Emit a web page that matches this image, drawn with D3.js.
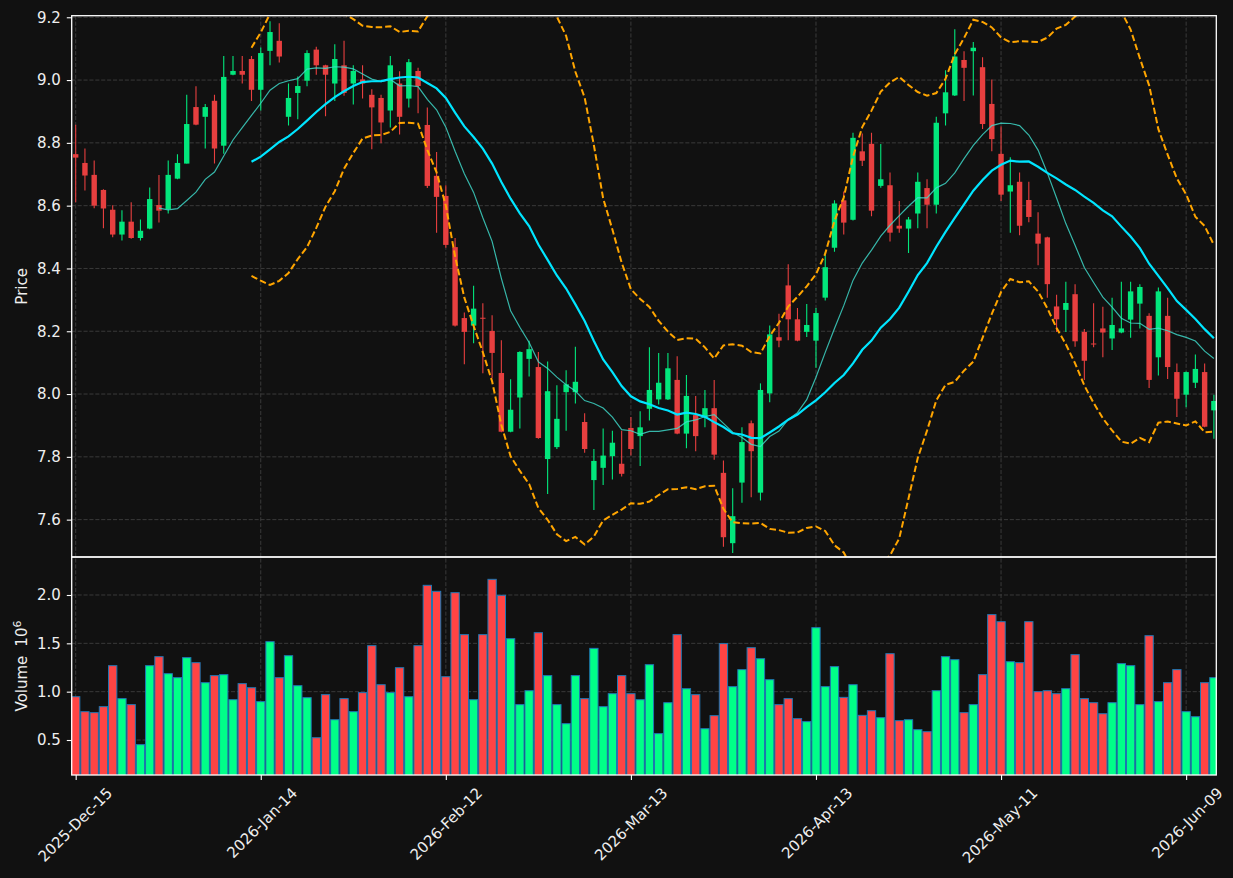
<!DOCTYPE html>
<html>
<head>
<meta charset="utf-8">
<script src="https://cdn.jsdelivr.net/npm/d3@7"></script>
<style>
  html, body { margin: 0; padding: 0; background: #111111; }
  svg { display: block; font-family: "DejaVu Sans", sans-serif; }
</style>
</head>
<body>
<svg id="chart" width="1233" height="878"></svg>
<script>
// ── Data ─────────────────────────────────────────────────────────────────────
const opens  = [8.764,8.736,8.698,8.650,8.587,8.508,8.549,8.497,8.527,8.602,8.589,8.686,8.734,8.914,8.883,8.934,8.791,9.017,9.029,9.067,
  8.969,9.093,9.125,8.883,8.959,8.998,9.097,9.047,8.989,9.047,8.989,9.002,8.953,8.943,8.903,8.989,8.941,9.029,8.857,8.695,
  8.631,8.468,8.242,8.218,8.243,8.201,8.067,7.880,7.989,8.112,8.086,7.793,7.831,8.006,8.006,7.911,7.726,7.765,7.802,7.778,
  7.892,7.866,7.953,7.983,7.983,8.045,7.874,7.933,7.927,7.955,7.749,7.525,7.718,7.907,7.686,8.002,8.181,8.346,8.238,8.198,
  8.170,8.307,8.466,8.617,8.555,8.773,8.797,8.663,8.665,8.536,8.527,8.575,8.656,8.603,8.894,8.951,9.064,9.092,9.041,8.924,
  8.765,8.645,8.676,8.618,8.511,8.499,8.279,8.268,8.318,8.198,8.161,8.209,8.177,8.196,8.237,8.288,8.249,8.117,8.249,8.070,
  7.998,8.036,8.070,7.948];
const highs  = [8.858,8.782,8.744,8.652,8.601,8.585,8.611,8.556,8.658,8.698,8.744,8.764,8.953,8.980,8.924,8.953,9.077,9.077,9.077,9.077,
  9.104,9.187,9.181,8.989,9.011,9.095,9.106,9.049,9.114,9.125,9.047,9.047,8.971,8.953,9.077,9.028,9.067,9.039,8.913,8.771,
  8.665,8.497,8.260,8.345,8.289,8.251,8.171,8.047,8.136,8.170,8.134,8.104,8.028,8.076,8.151,7.939,7.825,7.890,7.883,7.883,
  7.927,7.945,8.149,8.131,8.131,8.120,8.061,7.994,8.013,8.045,7.788,7.700,7.894,7.916,8.034,8.218,8.256,8.413,8.274,8.287,
  8.274,8.453,8.617,8.645,8.832,8.830,8.832,8.796,8.706,8.615,8.564,8.706,8.684,8.883,9.031,9.162,9.092,9.121,9.073,9.002,
  8.853,8.754,8.706,8.676,8.579,8.501,8.316,8.358,8.350,8.207,8.289,8.278,8.307,8.358,8.358,8.350,8.257,8.339,8.307,8.097,
  8.072,8.126,8.097,7.998];
const lows   = [8.611,8.648,8.592,8.528,8.499,8.489,8.495,8.489,8.525,8.546,8.575,8.684,8.734,8.856,8.782,8.734,8.765,9.015,8.989,8.933,
  8.903,9.047,9.056,8.855,8.875,8.980,9.017,8.885,8.933,8.950,8.922,8.941,8.780,8.799,8.849,8.827,8.913,8.894,8.656,8.514,
  8.466,8.215,8.095,8.162,8.066,8.050,7.878,7.878,7.890,8.056,7.858,7.682,7.825,7.883,7.970,7.813,7.631,7.710,7.728,7.737,
  7.804,7.771,7.916,7.967,7.981,7.872,7.827,7.818,7.894,7.791,7.514,7.494,7.654,7.671,7.661,7.974,8.149,8.171,8.168,8.182,
  8.084,8.298,8.453,8.508,8.553,8.726,8.566,8.657,8.486,8.514,8.449,8.528,8.528,8.575,8.855,8.949,8.933,8.951,8.844,8.773,
  8.615,8.514,8.506,8.547,8.410,8.307,8.198,8.198,8.151,8.045,8.149,8.117,8.140,8.194,8.179,8.209,8.019,8.059,8.048,7.927,
  7.958,8.019,7.894,7.858];
const closes = [8.753,8.696,8.600,8.591,8.508,8.549,8.497,8.520,8.621,8.584,8.698,8.736,8.860,8.858,8.914,8.782,9.010,9.029,9.017,8.969,
  9.086,9.153,9.075,8.943,8.981,9.086,9.047,9.017,9.067,8.959,9.029,8.989,8.913,8.865,9.047,8.883,9.057,8.981,8.663,8.628,
  8.475,8.218,8.198,8.272,8.240,8.131,7.880,7.950,8.134,8.143,7.860,8.009,7.921,8.031,8.039,7.825,7.787,7.804,7.845,7.746,
  7.825,7.894,8.013,8.036,8.082,7.874,7.994,7.866,7.955,7.807,7.544,7.611,7.847,7.818,8.013,8.190,8.170,8.238,8.170,8.220,
  8.258,8.404,8.607,8.546,8.816,8.743,8.584,8.684,8.514,8.527,8.556,8.676,8.603,8.864,8.961,9.075,9.039,9.103,8.860,8.812,
  8.635,8.665,8.536,8.564,8.479,8.350,8.238,8.290,8.168,8.106,8.158,8.196,8.220,8.209,8.327,8.341,8.045,8.327,8.086,7.985,
  8.070,8.080,7.896,7.978];
// volume, millions
const volumes = [0.948,0.793,0.783,0.845,1.269,0.928,0.866,0.452,1.269,1.362,1.186,1.145,1.352,1.300,1.093,1.166,1.176,0.917,1.083,1.041,
  0.897,1.517,1.145,1.372,1.062,0.938,0.524,0.969,0.710,0.928,0.793,0.990,1.476,1.072,0.990,1.248,0.948,1.476,2.100,2.038,
  1.155,2.024,1.590,0.917,1.590,2.162,1.997,1.548,0.866,1.010,1.610,1.166,0.866,0.669,1.166,0.928,1.448,0.845,0.979,1.166,
  0.979,0.917,1.279,0.566,0.886,1.590,1.031,0.969,0.617,0.752,1.497,1.052,1.228,1.455,1.341,1.124,0.866,0.928,0.721,0.690,
  1.662,1.052,1.259,0.941,1.072,0.755,0.803,0.731,1.393,0.700,0.710,0.607,0.586,1.010,1.362,1.331,0.783,0.866,1.176,1.797,
  1.724,1.310,1.300,1.724,1.000,1.010,0.979,1.031,1.383,0.928,0.886,0.772,0.886,1.290,1.269,0.866,1.579,0.897,1.093,1.228,
  0.793,0.741,1.093,1.145];
const tickIdx    = [0, 20, 40, 60, 80, 100, 120];
const tickLabels = ['2025-Dec-15','2026-Jan-14','2026-Feb-12','2026-Mar-13','2026-Apr-13','2026-May-11','2026-Jun-09'];
const priceTicks  = [7.6, 7.8, 8.0, 8.2, 8.4, 8.6, 8.8, 9.0, 9.2];
const volumeTicks = [0.5, 1.0, 1.5, 2.0];

// ── Layout ────────────────────────────────────────────────────────────────────
const LEFT = 71.7, RIGHT = 1216.3, TOP = 15.7, MID = 557, BOTTOM = 775;
const UP_CANDLE = '#02e77c', DOWN_CANDLE = '#e73f3f';
const UP_VOL = '#00ff88', DOWN_VOL = '#ff4444';
const TEXT = '#eeeeee', GRID = '#3a3a3a';

// ── Rolling helpers ───────────────────────────────────────────────────────────
function rollingMean(arr, n) {
  return arr.map((_, i) => i < n - 1 ? null : d3.mean(arr.slice(i - n + 1, i + 1)));
}
function rollingStd(arr, n) {
  return arr.map((_, i) => i < n - 1 ? null : d3.deviation(arr.slice(i - n + 1, i + 1)));
}

const ma10 = rollingMean(closes, 10);
const ma20 = rollingMean(closes, 20);
const sd20 = rollingStd(closes, 20);
const upper = ma20.map((m, i) => m == null ? null : m + 2 * sd20[i]);
const lower = ma20.map((m, i) => m == null ? null : m - 2 * sd20[i]);

// ── Scales ────────────────────────────────────────────────────────────────────
const x  = d3.scaleLinear().domain([-0.43, 123.26]).range([LEFT, RIGHT]);
const yP = d3.scaleLinear().domain([7.481, 9.205]).range([MID, TOP]);
const yV = d3.scaleLinear().domain([0.138, 2.393]).range([BOTTOM, MID]);

const svg = d3.select('#chart');
svg.append('rect').attr('width', 1233).attr('height', 878).attr('fill', '#111111');

const defs = svg.append('defs');
defs.append('clipPath').attr('id', 'clipP').append('rect')
  .attr('x', LEFT).attr('y', TOP).attr('width', RIGHT - LEFT).attr('height', MID - TOP);
defs.append('clipPath').attr('id', 'clipV').append('rect')
  .attr('x', LEFT).attr('y', MID).attr('width', RIGHT - LEFT).attr('height', BOTTOM - MID);

// ── Grid ──────────────────────────────────────────────────────────────────────
const grid = svg.append('g').attr('stroke', GRID).attr('stroke-width', 1)
  .attr('stroke-dasharray', '4.1,1.8').attr('fill', 'none');
tickIdx.forEach(i => {
  grid.append('line').attr('x1', x(i)).attr('x2', x(i)).attr('y1', TOP).attr('y2', BOTTOM);
});
priceTicks.forEach(p => {
  grid.append('line').attr('x1', LEFT).attr('x2', RIGHT).attr('y1', yP(p)).attr('y2', yP(p));
});
volumeTicks.forEach(v => {
  grid.append('line').attr('x1', LEFT).attr('x2', RIGHT).attr('y1', yV(v)).attr('y2', yV(v));
});

// ── Volume bars ───────────────────────────────────────────────────────────────
const barW = 8.3;
svg.append('g').attr('clip-path', 'url(#clipV)')
  .selectAll('rect').data(volumes).join('rect')
  .attr('x', (d, i) => x(i) - barW / 2)
  .attr('y', d => yV(d))
  .attr('width', barW)
  .attr('height', d => BOTTOM + 2 - yV(d))
  .attr('fill', (d, i) => closes[i] >= opens[i] ? UP_VOL : DOWN_VOL)
  .attr('stroke', '#1f77b4').attr('stroke-width', 1);

// ── Candles ───────────────────────────────────────────────────────────────────
const candleG = svg.append('g').attr('clip-path', 'url(#clipP)');
const bodyW = 5.4;
opens.forEach((o, i) => {
  const c = closes[i];
  const col = c >= o ? UP_CANDLE : DOWN_CANDLE;
  candleG.append('line')
    .attr('x1', x(i)).attr('x2', x(i))
    .attr('y1', yP(highs[i])).attr('y2', yP(lows[i]))
    .attr('stroke', col).attr('stroke-width', 1.1);
  const top = yP(Math.max(o, c)), bot = yP(Math.min(o, c));
  candleG.append('rect')
    .attr('x', x(i) - bodyW / 2).attr('y', top)
    .attr('width', bodyW).attr('height', Math.max(bot - top, 1))
    .attr('fill', col);
});

// ── Indicator lines ───────────────────────────────────────────────────────────
const line = d3.line().defined(d => d != null).x((d, i) => x(i)).y(d => yP(d));
const lineG = svg.append('g').attr('clip-path', 'url(#clipP)').attr('fill', 'none');
lineG.append('path').attr('d', line(upper))
  .attr('stroke', '#ffa500').attr('stroke-width', 2).attr('stroke-dasharray', '6.5,3');
lineG.append('path').attr('d', line(lower))
  .attr('stroke', '#ffa500').attr('stroke-width', 2).attr('stroke-dasharray', '6.5,3');
lineG.append('path').attr('d', line(ma10))
  .attr('stroke', '#40e0d0').attr('stroke-opacity', 0.8).attr('stroke-width', 1.2);
lineG.append('path').attr('d', line(ma20))
  .attr('stroke', '#00e5ff').attr('stroke-width', 2.2);

// ── Spines ────────────────────────────────────────────────────────────────────
svg.append('rect').attr('x', LEFT).attr('y', TOP).attr('width', RIGHT - LEFT).attr('height', MID - TOP)
  .attr('fill', 'none').attr('stroke', '#ffffff').attr('stroke-width', 1.3);
svg.append('rect').attr('x', LEFT).attr('y', MID).attr('width', RIGHT - LEFT).attr('height', BOTTOM - MID)
  .attr('fill', 'none').attr('stroke', '#ffffff').attr('stroke-width', 1.3);

// ── Axes ──────────────────────────────────────────────────────────────────────
function styleAxis(g) {
  g.select('.domain').remove();
  g.selectAll('.tick line').attr('stroke', '#ffffff').attr('stroke-width', 1.1);
  g.selectAll('.tick text').attr('fill', TEXT).attr('font-size', 15)
    .attr('font-family', '"DejaVu Sans", sans-serif');
}
svg.append('g').attr('transform', `translate(${LEFT},0)`)
  .call(d3.axisLeft(yP).tickValues(priceTicks).tickFormat(d3.format('.1f')).tickSize(4.9).tickPadding(6))
  .call(styleAxis);
svg.append('g').attr('transform', `translate(${LEFT},0)`)
  .call(d3.axisLeft(yV).tickValues(volumeTicks).tickFormat(d3.format('.1f')).tickSize(4.9).tickPadding(6))
  .call(styleAxis);

const xAxis = svg.append('g').attr('transform', `translate(0,${BOTTOM})`)
  .call(d3.axisBottom(x).tickValues(tickIdx).tickFormat((d, i) => tickLabels[i]).tickSize(4.9))
  .call(styleAxis);
xAxis.selectAll('.tick text')
  .attr('text-anchor', 'end').attr('dy', null).attr('y', null)
  .attr('transform', 'translate(37,19) rotate(-45)');

// ── Axis titles ───────────────────────────────────────────────────────────────
svg.append('text').attr('transform', `translate(27,${(TOP + MID) / 2}) rotate(-90)`)
  .attr('text-anchor', 'middle').attr('fill', TEXT).attr('font-size', 15).text('Price');
const vt = svg.append('text').attr('transform', `translate(27,${(MID + BOTTOM) / 2}) rotate(-90)`)
  .attr('text-anchor', 'middle').attr('fill', TEXT).attr('font-size', 15);
vt.append('tspan').text('Volume');
vt.append('tspan').attr('dx', 9).text('10');
vt.append('tspan').attr('font-size', 11).attr('dy', -6).text('6');
</script>
</body>
</html>
